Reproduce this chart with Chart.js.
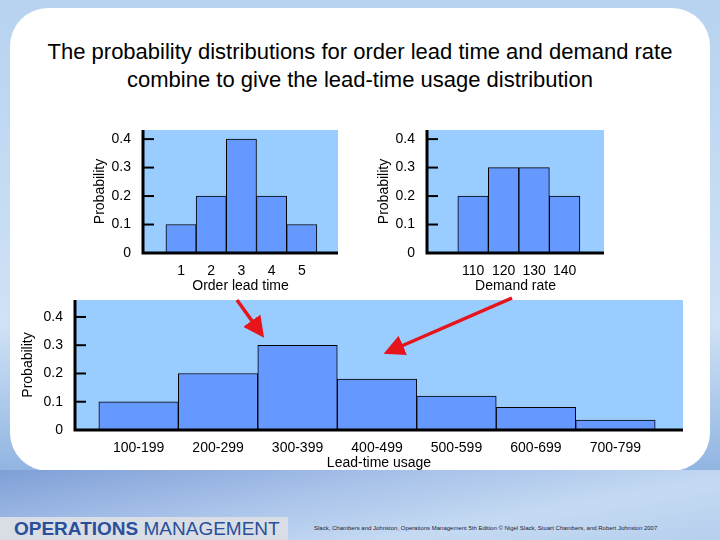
<!DOCTYPE html>
<html><head><meta charset="utf-8">
<script src="https://cdn.jsdelivr.net/npm/chart.js@4"></script>
<style>
body{margin:0;width:720px;height:540px;overflow:hidden;font-family:Arial,"Liberation Sans",sans-serif;position:relative;
background:linear-gradient(180deg,#b7d3ef 0%,#cfe2f6 60%,#8fb3e0 88%,#b9d3ee 100%);}
#panel{position:absolute;left:10px;top:8px;width:700px;height:463px;background:#fff;border-radius:38px;}
#foot{position:absolute;left:0;top:470px;width:720px;height:70px;background:linear-gradient(170deg,#7f9fd6 0%,#a9c3ea 40%,#c5daf2 70%,#b6cfee 100%);}
#om{position:absolute;left:0;top:517px;width:288px;height:23px;background:#d8dde6;color:#2a4f9a;font-size:19px;line-height:23px;padding-left:14px;box-sizing:border-box;}
#cr{position:absolute;left:314px;top:525px;font-size:6px;color:#223;white-space:nowrap;}
#title{position:absolute;left:0;top:38px;width:720px;text-align:center;font-size:22px;line-height:28px;color:#000;}
canvas{position:absolute;left:0;top:0;}
svg{position:absolute;left:0;top:0;}
</style></head><body>
<div id="panel"></div><div id="foot"></div>
<div id="om"><b>OPERATIONS</b> MANAGEMENT</div>
<div id="cr">Slack, Chambers and Johnston, Operations Management 5th Edition © Nigel Slack, Stuart Chambers, and Robert Johnston 2007</div>
<div id="title">The probability distributions for order lead time and demand rate<br>combine to give the lead-time usage distribution</div>
<canvas id="c1" width="720" height="540"></canvas>
<canvas id="c2" width="720" height="540"></canvas>
<canvas id="c3" width="720" height="540"></canvas>
<svg width="720" height="540">
<defs><marker id="ah" markerWidth="6" markerHeight="6" refX="4" refY="3" orient="auto"><path d="M0,0 L6,3 L0,6 z" fill="#e8141c"/></marker></defs>
<line x1="237" y1="300" x2="260" y2="332" stroke="#e8141c" stroke-width="3.5" marker-end="url(#ah)"/>
<line x1="512" y1="298" x2="390" y2="351" stroke="#e8141c" stroke-width="3.5" marker-end="url(#ah)"/>
</svg>
<script>
const leadTimeCats=["1","2","3","4","5"];
const leadTimeProb=[0.1,0.2,0.4,0.2,0.1];
const demandCats=["110","120","130","140"];
const demandProb=[0.2,0.3,0.3,0.2];
const usageCats=["100-199","200-299","300-399","400-499","500-599","600-699","700-799"];
const usageProb=[0.1,0.2,0.3,0.18,0.12,0.08,0.035];
const yTicks=[0,0.1,0.2,0.3,0.4];

const deco={id:'deco',
 beforeDraw(c){const a=c.chartArea,x=c.ctx;x.save();x.fillStyle='#99ccff';x.fillRect(a.left,a.top,a.right-a.left,a.bottom-a.top);x.restore();},
 afterDraw(c){const a=c.chartArea,x=c.ctx,y=c.scales.y;x.save();x.strokeStyle='#000';x.lineWidth=2;
  yTicks.forEach(v=>{if(v>0){const p=y.getPixelForValue(v);x.beginPath();x.moveTo(a.left,p);x.lineTo(a.left+11,p);x.stroke();}});
  x.lineWidth=3;x.beginPath();x.moveTo(a.left,a.top);x.lineTo(a.left,a.bottom);x.lineTo(a.right,a.bottom);x.stroke();x.restore();}};

function make(id,cats,vals,pad,yw,xh,xmin,xmax,ymax,xtitle){
 new Chart(document.getElementById(id),{type:'bar',
  data:{datasets:[{data:vals.map((v,i)=>({x:i+1,y:v})),backgroundColor:'#6699ff',borderColor:'#000',borderWidth:1,barPercentage:1,categoryPercentage:1}]},
  options:{responsive:false,animation:false,layout:{padding:pad},
   plugins:{legend:{display:false},tooltip:{enabled:false}},
   scales:{
    x:{type:'linear',offset:false,min:xmin,max:xmax,grid:{display:false,offset:false},border:{display:false},
     afterBuildTicks:s=>{s.ticks=cats.map((c,i)=>({value:i+1}));},afterFit:s=>{s.height=xh;},
     ticks:{autoSkip:false,maxRotation:0,color:'#000',font:{size:14,family:'Arial'},padding:2,callback:v=>cats[v-1]},
     title:{display:true,text:xtitle,color:'#000',font:{size:14,family:'Arial'},padding:{top:0,bottom:0}}},
    y:{min:0,max:ymax,grid:{display:false},border:{display:false},
     afterBuildTicks:s=>{s.ticks=yTicks.map(v=>({value:v}));},afterFit:s=>{s.width=yw;},
     ticks:{color:'#000',font:{size:14,family:'Arial'},padding:4},
     title:{display:true,text:'Probability',color:'#000',font:{size:14,family:'Arial'},padding:0}}}},
  plugins:[deco]});
}
make('c1',leadTimeCats,leadTimeProb,{left:92,right:382,top:130,bottom:245},51,42,-0.26,6.2,0.432,'Order lead time');
make('c2',demandCats,demandProb,{left:376,right:116,top:130,bottom:245},51,42,-0.51,5.29,0.432,'Demand rate');
make('c3',usageCats,usageProb,{left:20,right:37,top:300,bottom:68},55,42,0.2,7.85,0.46,'Lead-time usage');
</script></body></html>
